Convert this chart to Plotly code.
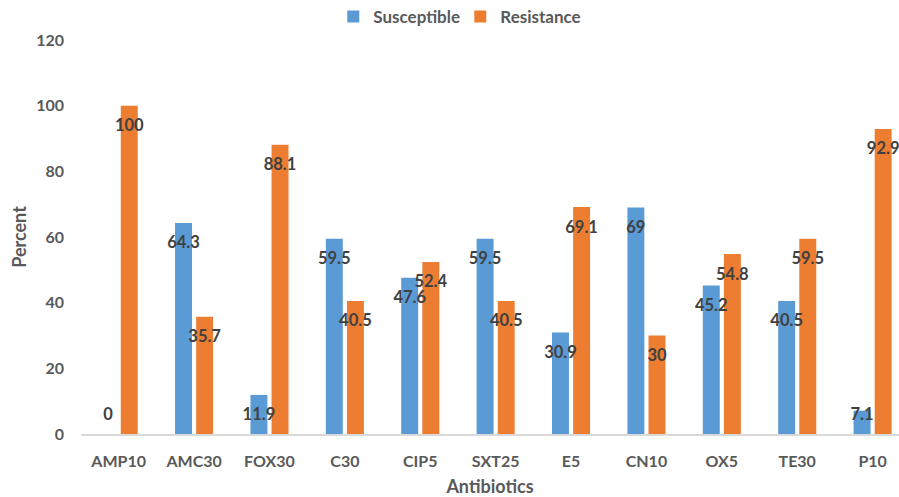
import plotly.graph_objects as go

categories = ["AMP10", "AMC30", "FOX30", "C30", "CIP5", "SXT25", "E5", "CN10", "OX5", "TE30", "P10"]
susceptible = [0, 64.3, 11.9, 59.5, 47.6, 59.5, 30.9, 69, 45.2, 40.5, 7.1]
resistance = [100, 35.7, 88.1, 40.5, 52.4, 40.5, 69.1, 30, 54.8, 59.5, 92.9]
y_ticks = [0, 20, 40, 60, 80, 100, 120]

BLUE = "#5B9BD5"
ORANGE = "#ED7D31"
GRAY = "#595959"
LABEL = "#404040"
FONT = "Lato"

idx = list(range(len(categories)))
bw = 0.225
off = 0.14

fig = go.Figure()
fig.add_trace(go.Bar(x=[i - off for i in idx], y=susceptible, width=bw, name="Susceptible",
                     marker=dict(color=BLUE, line=dict(width=0))))
fig.add_trace(go.Bar(x=[i + off for i in idx], y=resistance, width=bw, name="Resistance",
                     marker=dict(color=ORANGE, line=dict(width=0))))

def label_y(vals):
    return [max(v - 6.5, 5.5) for v in vals]

def fmt(v):
    return str(int(v)) if float(v).is_integer() else str(v)

for xs, vals in (([i - off for i in idx], susceptible), ([i + off for i in idx], resistance)):
    fig.add_trace(go.Scatter(x=xs, y=label_y(vals), mode="text", text=[fmt(v) for v in vals],
                             textposition="middle center", showlegend=False, hoverinfo="skip",
                             cliponaxis=False,
                             textfont=dict(family=FONT, size=16.5, color=LABEL, weight="bold")))

fig.update_layout(
    width=899, height=497,
    margin=dict(l=81, r=0, t=40, b=63, autoexpand=False),
    paper_bgcolor="white", plot_bgcolor="white",
    barmode="overlay",
    font=dict(family=FONT, color=GRAY, size=15, weight="bold"),
    legend=dict(orientation="h", x=0.512, xanchor="center", xref="container",
                y=0.966, yanchor="middle", yref="container",
                font=dict(size=17, color=GRAY, weight="bold"),
                entrywidth=82, entrywidthmode="pixels",
                traceorder="normal"),
    xaxis=dict(range=[-0.5, 10.35], tickmode="array", tickvals=idx, ticktext=categories,
               showline=True, linecolor="#D9D9D9", linewidth=2, showgrid=False, zeroline=False,
               ticks="", ticklabelstandoff=12, automargin=False,
               tickfont=dict(size=16, color=GRAY, weight="bold"),
               title=dict(text="Antibiotics", font=dict(size=18, color=GRAY, weight="bold"), standoff=13)),
    yaxis=dict(range=[0, 120], tickmode="array", tickvals=y_ticks, showgrid=False, zeroline=False,
               showline=False, ticks="", ticklabelstandoff=16, automargin=False,
               tickfont=dict(size=16, color=GRAY, weight="bold"),
               title=dict(text="Percent", font=dict(size=18, color=GRAY, weight="bold"), standoff=4)),
)

fig.write_html("out.html", config={"displayModeBar": False},
               post_script="document.body.style.margin='0';document.body.style.overflow='hidden';")
